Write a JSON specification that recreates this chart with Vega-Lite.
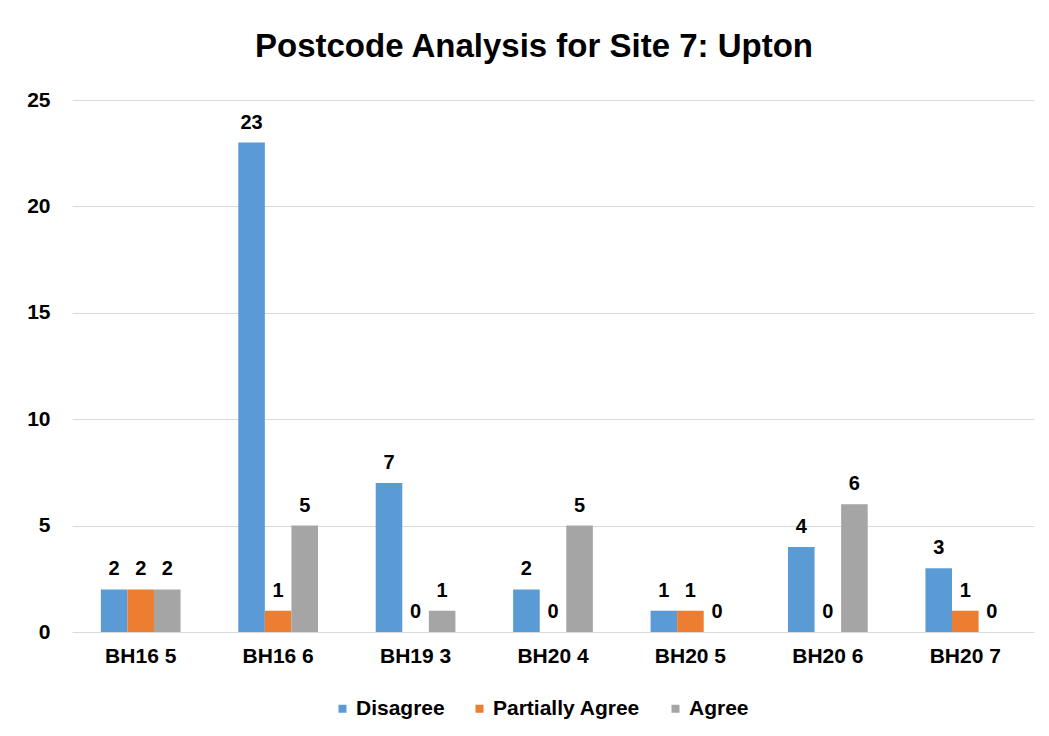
{
  "$schema": "https://vega.github.io/schema/vega-lite/v6.json",
  "autosize": "none",
  "width": 962,
  "height": 532,
  "padding": {"left": 72, "top": 100, "right": 15, "bottom": 104},
  "background": "white",
  "title": {
    "text": "Postcode Analysis for Site 7: Upton",
    "font": "Liberation Sans",
    "fontSize": 33,
    "fontWeight": "bold",
    "color": "#000000",
    "offset": 25,
    "dx": -19
  },
  "data": {
    "values": [
      {"postcode": "BH16 5", "response": "Disagree", "count": 2},
      {"postcode": "BH16 5", "response": "Partially Agree", "count": 2},
      {"postcode": "BH16 5", "response": "Agree", "count": 2},
      {"postcode": "BH16 6", "response": "Disagree", "count": 23},
      {"postcode": "BH16 6", "response": "Partially Agree", "count": 1},
      {"postcode": "BH16 6", "response": "Agree", "count": 5},
      {"postcode": "BH19 3", "response": "Disagree", "count": 7},
      {"postcode": "BH19 3", "response": "Partially Agree", "count": 0},
      {"postcode": "BH19 3", "response": "Agree", "count": 1},
      {"postcode": "BH20 4", "response": "Disagree", "count": 2},
      {"postcode": "BH20 4", "response": "Partially Agree", "count": 0},
      {"postcode": "BH20 4", "response": "Agree", "count": 5},
      {"postcode": "BH20 5", "response": "Disagree", "count": 1},
      {"postcode": "BH20 5", "response": "Partially Agree", "count": 1},
      {"postcode": "BH20 5", "response": "Agree", "count": 0},
      {"postcode": "BH20 6", "response": "Disagree", "count": 4},
      {"postcode": "BH20 6", "response": "Partially Agree", "count": 0},
      {"postcode": "BH20 6", "response": "Agree", "count": 6},
      {"postcode": "BH20 7", "response": "Disagree", "count": 3},
      {"postcode": "BH20 7", "response": "Partially Agree", "count": 1},
      {"postcode": "BH20 7", "response": "Agree", "count": 0}
    ]
  },
  "encoding": {
    "x": {
      "field": "postcode",
      "type": "nominal",
      "sort": null,
      "scale": {"paddingInner": 0.42, "paddingOuter": 0.21},
      "axis": {
        "title": null,
        "labelAngle": 0,
        "labelFont": "Liberation Sans",
        "labelFontSize": 21,
        "labelFontWeight": "bold",
        "labelColor": "#000000",
        "labelPadding": 13,
        "domain": false,
        "ticks": false,
        "grid": false
      }
    },
    "xOffset": {
      "field": "response",
      "type": "nominal",
      "sort": ["Disagree", "Partially Agree", "Agree"]
    },
    "y": {
      "field": "count",
      "type": "quantitative",
      "scale": {"domain": [0, 25]},
      "axis": {
        "title": null,
        "values": [0, 5, 10, 15, 20, 25],
        "labelFont": "Liberation Sans",
        "labelFontSize": 21,
        "labelFontWeight": "bold",
        "labelColor": "#000000",
        "labelPadding": 22,
        "domain": false,
        "ticks": false,
        "grid": true,
        "gridColor": "#D9D9D9",
        "gridWidth": 1
      }
    }
  },
  "layer": [
    {
      "mark": {"type": "bar"},
      "encoding": {
        "color": {
          "field": "response",
          "type": "nominal",
          "sort": ["Disagree", "Partially Agree", "Agree"],
          "scale": {
            "domain": ["Disagree", "Partially Agree", "Agree"],
            "range": ["#5B9BD5", "#ED7D31", "#A5A5A5"]
          },
          "legend": {
            "title": null,
            "orient": "none",
            "legendX": 260,
            "legendY": 598,
            "direction": "horizontal",
            "symbolType": "square",
            "symbolSize": 64,
            "symbolStrokeWidth": 0,
            "labelFont": "Liberation Sans",
            "labelFontSize": 21,
            "labelFontWeight": "bold",
            "labelColor": "#000000",
            "columnPadding": 24,
            "labelOffset": 3
          }
        }
      }
    },
    {
      "mark": {
        "type": "text",
        "dy": -20,
        "font": "Liberation Sans",
        "fontSize": 20,
        "fontWeight": "bold",
        "color": "#000000"
      },
      "encoding": {
        "text": {"field": "count", "type": "quantitative"}
      }
    }
  ],
  "config": {"view": {"stroke": null}}
}
